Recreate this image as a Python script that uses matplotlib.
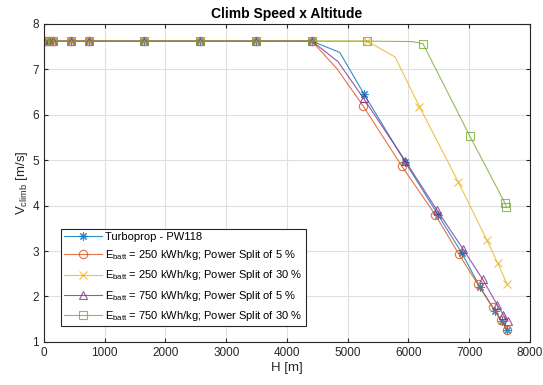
import matplotlib
matplotlib.use("Agg")
import matplotlib.pyplot as plt

plt.rcParams['font.family'] = ['Liberation Sans', 'DejaVu Sans']
plt.rcParams['mathtext.fontset'] = 'custom'
plt.rcParams['mathtext.rm'] = 'Liberation Sans'
plt.rcParams['mathtext.it'] = 'Liberation Sans'

# flat part, shared by all curves
h_flat = [0, 75, 150, 450, 740, 1650, 2570, 3490, 4410]
v_flat = [7.62] * len(h_flat)

h_turbo = h_flat + [4870, 5270, 5940, 6490, 6880, 7180, 7420, 7540, 7620]
v_turbo = v_flat + [7.37, 6.45, 4.97, 3.79, 2.95, 2.20, 1.68, 1.45, 1.27]

h_250_5 = h_flat + [4830, 5250, 5890, 6440, 6830, 7140, 7390, 7520, 7620]
v_250_5 = v_flat + [7.00, 6.20, 4.87, 3.80, 2.93, 2.27, 1.76, 1.48, 1.27]

h_250_30 = h_flat + [5320, 5780, 6180, 6820, 7290, 7470, 7620]
v_250_30 = v_flat + [7.62, 7.27, 6.18, 4.52, 3.24, 2.73, 2.28]

h_750_5 = h_flat + [4840, 5260, 5950, 6470, 6900, 7220, 7460, 7560, 7640]
v_750_5 = v_flat + [7.17, 6.36, 4.98, 3.90, 3.04, 2.38, 1.82, 1.60, 1.45]

h_750_30 = h_flat + [5320, 6070, 6240, 7010, 7590, 7610]
v_750_30 = v_flat + [7.62, 7.61, 7.56, 5.53, 4.05, 3.97]

labels = [
    'Turboprop - PW118',
    r'E$_{\mathrm{batt}}$ = 250 kWh/kg; Power Split of 5 %',
    r'E$_{\mathrm{batt}}$ = 250 kWh/kg; Power Split of 30 %',
    r'E$_{\mathrm{batt}}$ = 750 kWh/kg; Power Split of 5 %',
    r'E$_{\mathrm{batt}}$ = 750 kWh/kg; Power Split of 30 %',
]

# (x, y, marker, colour, index of the unmarked bend point)
series = [
    (h_turbo, v_turbo, (8, 2, 0), '#0072BD', 9),
    (h_250_5, v_250_5, 'o', '#D95319', 9),
    (h_250_30, v_250_30, 'x', '#EDB120', 10),
    (h_750_5, v_750_5, '^', '#7E2F8E', 9),
    (h_750_30, v_750_30, 's', '#77AC30', 10),
]

fig = plt.figure(figsize=(5.43, 3.85), dpi=100)
ax = fig.add_axes([0.081, 0.112, 0.895, 0.826])

for (h, v, m, c, skip), lab in zip(series, labels):
    idx = [i for i in range(len(h)) if i != skip]
    ax.plot(h, v, color=c, lw=0.8, marker=m, markevery=idx, ms=6,
            mfc='none', mec=c, mew=0.8, alpha=0.8, label=lab)

ax.set_xlim(0, 8000)
ax.set_ylim(1, 8)
ax.set_xticks(range(0, 8001, 1000))
ax.set_yticks(range(1, 9))
ax.grid(True, color='#e0e0e0', lw=0.8)
ax.set_axisbelow(True)
ax.tick_params(direction='in', top=True, right=True, labelsize=8.5,
               colors='#262626', length=3)
for s in ax.spines.values():
    s.set_color('#262626')
    s.set_linewidth(0.8)

ax.set_title('Climb Speed x Altitude', fontsize=10, fontweight='bold', pad=4)
ax.set_xlabel('H [m]', fontsize=9.5, color='#262626', labelpad=2)
ax.set_ylabel(r'V$_{\mathrm{climb}}$ [m/s]', fontsize=9.5, color='#262626', labelpad=2)

leg = ax.legend(loc='lower left', bbox_to_anchor=(0.035, 0.05), fontsize=8,
                handlelength=3.4, fancybox=False, framealpha=1,
                edgecolor='#262626', borderpad=0.3, labelspacing=0.55,
                handletextpad=0.3, borderaxespad=0)
leg.get_frame().set_linewidth(0.8)

fig.savefig('out.png', dpi=100)
